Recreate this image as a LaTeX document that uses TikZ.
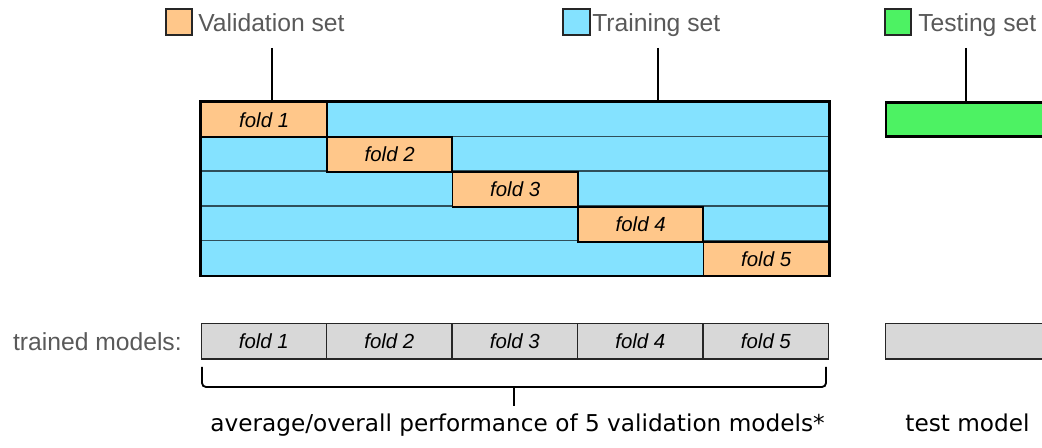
\documentclass[tikz,border=0pt]{standalone}
\usepackage{fontspec}
\setmainfont{Liberation Sans}
\newfontfamily\notefont{DejaVu Sans}
\begin{document}
\begin{tikzpicture}[x=0.75pt,y=-0.75pt,
  legendtext/.style={text=black!65,font=\fontsize{18.5}{22}\selectfont,inner sep=0pt},
  swatch/.style={draw=black!85,line width=1.5pt,minimum width=20pt,minimum height=19.5pt,inner sep=0pt,anchor=north west},
  foldcell/.style={fill=valorange,draw=black,line width=1.4pt,minimum width=94.1pt,minimum height=26.1pt,
                   inner sep=0pt,anchor=north west,font=\itshape\fontsize{15.3}{18}\selectfont},
  modelcell/.style={fill=modelgrey,draw=black!85,line width=1pt,minimum width=94.1pt,minimum height=26.6pt,
                   inner sep=0pt,anchor=north west,font=\itshape\fontsize{15.3}{18}\selectfont},
  tick/.style={line width=1.4pt,black},
  notetext/.style={font=\notefont\fontsize{17.4}{21}\selectfont,inner sep=0pt,anchor=base}
]
\definecolor{valorange}{HTML}{FFC78A}
\definecolor{trainblue}{HTML}{84E2FF}
\definecolor{testgreen}{HTML}{4DF263}
\definecolor{modelgrey}{HTML}{D8D8D8}
\definecolor{sepline}{HTML}{2F4F5A}

\clip (0,0) rectangle (1042,448);

% legend
\node[swatch,fill=valorange] (valsw) at (164.5,8.5) {};
\node[legendtext,anchor=base west] (valtxt) at (198,31.5) {Validation set};
\node[swatch,fill=trainblue] (trainsw) at (562,8.5) {};
\node[legendtext,anchor=base west] (traintxt) at (592,31.5) {Training set};
\node[swatch,fill=testgreen] (testsw) at (883.5,8.5) {};
\node[legendtext,anchor=base west] (testtxt) at (918,31.5) {Testing set};

% cross-validation block: training background
\node[fill=trainblue,minimum width=471pt,minimum height=130.5pt,inner sep=0pt,anchor=north west] (cv) at (200.5,101.5) {};
\foreach \r in {1,...,4}
  \draw[sepline,line width=1.1pt] ([yshift=-\r*26.1pt]cv.north west) -- ([yshift=-\r*26.1pt]cv.north east);

% validation folds
\foreach \i in {1,...,5}
  \node[foldcell] (f\i) at ({200.5+125.5*(\i-1)},{101.5+34.8*(\i-1)}) {fold \i};

\draw[line width=2.2pt] (cv.north west) rectangle (cv.south east);

% testing block
\node[fill=testgreen,draw=black,line width=1.7pt,minimum width=130pt,minimum height=25.5pt,inner sep=0pt,anchor=north west] (test) at (885,101.5) {};

% leader lines from the legend
\coordinate (valtick) at (272,48);
\coordinate (traintick) at (658,48);
\coordinate (testtick) at (966,48);
\draw[tick] (valtick) -- (valtick |- cv.north);
\draw[tick] (traintick) -- (traintick |- cv.north);
\draw[tick] (testtick) -- (testtick |- test.north);

% trained models
\node[legendtext,anchor=base east] (tmlabel) at (182,350.5) {trained models:};
\foreach \i in {1,...,5}
  \node[modelcell] (m\i) at ({200.5+125.5*(\i-1)},323) {fold \i};
\node[modelcell,minimum width=130pt,anchor=north west] (tmodel) at (885,323) {};

% bracket under the validation models
\coordinate (bl) at (202,367);
\coordinate (br) at (826,367);
\coordinate (bmid) at (514,387);
\coordinate (bstem) at (514,406);
\draw[line width=1.4pt,rounded corners=3pt] (bl) |- (bmid) -| (br);
\draw[line width=1.5pt] (bmid) -- (bstem);

% captions
\node[notetext] (avg) at (517.5,431.5) {average/overall performance of 5 validation models*};
\node[notetext] (tm) at (967.5,431.5) {test model};
\end{tikzpicture}
\end{document}
